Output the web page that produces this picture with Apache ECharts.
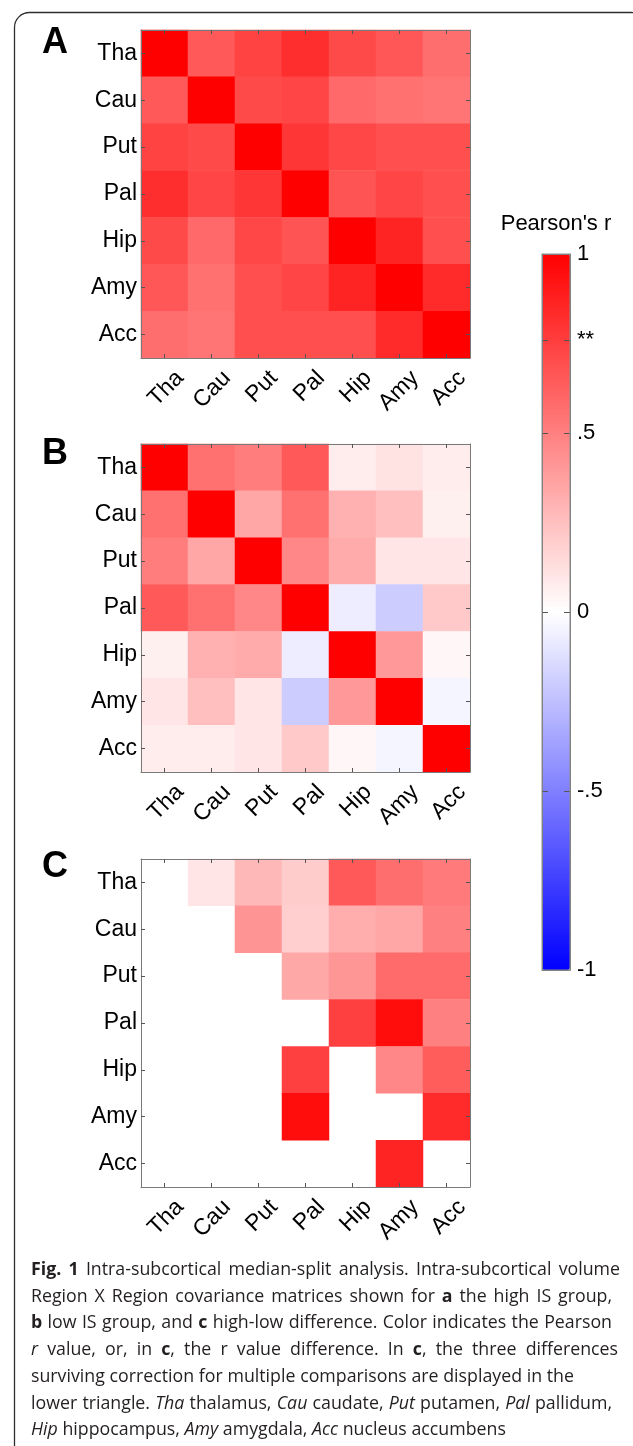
<!DOCTYPE html>
<html>
<head>
<meta charset="utf-8">
<script src="https://cdn.jsdelivr.net/npm/echarts@6/dist/echarts.min.js"></script>
<style>
html,body{margin:0;padding:0;background:#fff;}
#chart{width:633px;height:1446px;}
#measure{position:absolute;left:-9999px;top:0;white-space:pre;visibility:hidden;}
</style>
</head>
<body>
<div id="chart"></div>
<div id="measure"></div>
<script>
// ---------------- DATA ----------------
const regions = ['Tha', 'Cau', 'Put', 'Pal', 'Hip', 'Amy', 'Acc'];

// A: high IS group (Pearson r)
const highIS = [
  [1.00, 0.65, 0.74, 0.82, 0.71, 0.66, 0.57],
  [0.65, 1.00, 0.71, 0.73, 0.59, 0.56, 0.54],
  [0.74, 0.71, 1.00, 0.79, 0.72, 0.69, 0.69],
  [0.82, 0.73, 0.79, 1.00, 0.67, 0.73, 0.69],
  [0.71, 0.59, 0.72, 0.67, 1.00, 0.86, 0.69],
  [0.66, 0.56, 0.69, 0.73, 0.86, 1.00, 0.83],
  [0.57, 0.54, 0.69, 0.69, 0.69, 0.83, 1.00]
];

// B: low IS group (Pearson r)
const lowIS = [
  [1.00, 0.56, 0.51, 0.65, 0.07, 0.11, 0.07],
  [0.56, 1.00, 0.35, 0.56, 0.31, 0.25, 0.06],
  [0.51, 0.35, 1.00, 0.47, 0.33, 0.10, 0.10],
  [0.65, 0.56, 0.47, 1.00, -0.07, -0.20, 0.21],
  [0.06, 0.31, 0.33, -0.07, 1.00, 0.40, 0.03],
  [0.10, 0.25, 0.10, -0.20, 0.40, 1.00, -0.04],
  [0.07, 0.07, 0.10, 0.21, 0.03, -0.04, 1.00]
];

// C: high-low difference (upper triangle) + surviving differences (lower)
const diffHL = [
  [null, 0.10, 0.28, 0.20, 0.65, 0.57, 0.52],
  [null, null, 0.42, 0.19, 0.32, 0.35, 0.50],
  [null, null, null, 0.34, 0.41, 0.58, 0.58],
  [null, null, null, null, 0.75, 0.95, 0.50],
  [null, null, null, 0.75, null, 0.47, 0.64],
  [null, null, null, 0.95, null, null, 0.83],
  [null, null, null, null, null, 0.86, null]
];

const cbTickValues = [-1, -0.5, 0, 0.5, 0.76, 1];
const cbTickLabels = ['-1', '-.5', '0', '.5', '**', '1'];
const panelLetters = ['A', 'B', 'C'];

const captionLines = [
  '{b|Fig.} {b|1} Intra-subcortical median-split analysis. Intra-subcortical volume',
  'Region X Region covariance matrices shown for {b|a} the high IS group,',
  '{b|b} low IS group, and {b|c} high-low difference. Color indicates the Pearson',
  '{i|r} value, or, in {b|c}, the r value difference. In {b|c}, the three differences',
  'surviving correction for multiple comparisons are displayed in the',
  'lower triangle. {i|Tha} thalamus, {i|Cau} caudate, {i|Put} putamen, {i|Pal} pallidum,',
  '{i|Hip} hippocampus, {i|Amy} amygdala, {i|Acc} nucleus accumbens'
];

// ---------------- LAYOUT ----------------
const gridLeft = 141, gridW = 329, gridH = 328;
const gridTops = [30, 444, 859];
const letterY = [43, 454, 867];
const cb = {left: 542, top: 254, width: 28, height: 716};
const capX = 31, capY0 = 1270, capDY = 26.7;
const capRight = [620, 612, 612, 618, 574, 612, null];
const FONT = '"Liberation Sans", Arial, sans-serif';
const CAPFONTNAME = 'Open Sans';
const CAPFONT = '"Open Sans", sans-serif';

function toCells(m) {
  const out = [];
  m.forEach((row, i) => row.forEach((v, j) => { if (v !== null) out.push([j, i, v]); }));
  return out;
}

const grids = [], xAxes = [], yAxes = [], series = [];
const axisLineStyle = {color: '#7a7a7a', width: 1};
const tickStyle = {color: '#555', width: 1};

[highIS, lowIS, diffHL].forEach((mat, k) => {
  grids.push({left: gridLeft, top: gridTops[k], width: gridW, height: gridH});
  xAxes.push({
    type: 'category', gridIndex: k, data: regions, position: 'bottom', z: 5,
    axisLine: {show: true, lineStyle: axisLineStyle},
    axisTick: {show: true, inside: true, alignWithLabel: true, length: 4, lineStyle: tickStyle, interval: 0},
    axisLabel: {rotate: 45, interval: 0, hideOverlap: false, showMinLabel: true, showMaxLabel: true,
                fontSize: 23, fontFamily: FONT, color: '#000', margin: 1,
                verticalAlign: 'top', lineHeight: 44},
    splitLine: {show: false}
  });
  xAxes.push({
    type: 'category', gridIndex: k, data: regions, position: 'top', z: 5,
    axisLine: {show: true, lineStyle: axisLineStyle},
    axisTick: {show: true, inside: true, alignWithLabel: true, length: 4, lineStyle: tickStyle, interval: 0},
    axisLabel: {show: false}, splitLine: {show: false}
  });
  yAxes.push({
    type: 'category', gridIndex: k, data: regions, inverse: true, position: 'left', z: 5,
    axisLine: {show: true, lineStyle: axisLineStyle},
    axisTick: {show: true, inside: true, alignWithLabel: true, length: 4, lineStyle: tickStyle, interval: 0},
    axisLabel: {interval: 0, fontSize: 23, fontFamily: FONT, color: '#000', margin: 4},
    splitLine: {show: false}
  });
  yAxes.push({
    type: 'category', gridIndex: k, data: regions, inverse: true, position: 'right', z: 5,
    axisLine: {show: true, lineStyle: axisLineStyle},
    axisTick: {show: true, inside: true, alignWithLabel: true, length: 4, lineStyle: tickStyle, interval: 0},
    axisLabel: {show: false}, splitLine: {show: false}
  });
  series.push({
    type: 'heatmap', xAxisIndex: 2 * k, yAxisIndex: 2 * k,
    data: toCells(mat), itemStyle: {borderWidth: 0},
    emphasis: {disabled: true}, silent: true, progressive: 0
  });
});

// colorbar axes
grids.push({left: cb.left, top: cb.top, width: cb.width, height: cb.height});
xAxes.push({type: 'value', gridIndex: 3, min: 0, max: 1, position: 'bottom', z: 10,
  axisLine: {show: true, onZero: false, lineStyle: axisLineStyle}, axisTick: {show: false},
  axisLabel: {show: false}, splitLine: {show: false}});
xAxes.push({type: 'value', gridIndex: 3, min: 0, max: 1, position: 'top', z: 10,
  axisLine: {show: true, onZero: false, lineStyle: axisLineStyle}, axisTick: {show: false},
  axisLabel: {show: false}, splitLine: {show: false}});
const cbFmt = v => { const i = cbTickValues.findIndex(t => Math.abs(t - v) < 1e-6); return i >= 0 ? cbTickLabels[i] : ''; };
yAxes.push({type: 'value', gridIndex: 3, min: -1, max: 1, position: 'right', z: 10,
  axisLine: {show: true, onZero: false, lineStyle: axisLineStyle},
  axisTick: {show: true, inside: true, length: 6, customValues: [-0.5, 0, 0.5, 0.76], lineStyle: tickStyle},
  axisLabel: {show: true, customValues: cbTickValues, formatter: cbFmt, fontSize: 22, fontFamily: FONT, color: '#000', margin: 7},
  splitLine: {show: false}});
yAxes.push({type: 'value', gridIndex: 3, min: -1, max: 1, position: 'left', z: 10,
  axisLine: {show: true, onZero: false, lineStyle: axisLineStyle},
  axisTick: {show: true, inside: true, length: 6, customValues: [-0.5, 0, 0.5, 0.76], lineStyle: tickStyle},
  axisLabel: {show: false}, splitLine: {show: false}});

// ---------------- CAPTION LAYOUT (justified words, DOM-measured) ----------------
const measEl = document.getElementById('measure');
function measureSeg(txt, fs, wt, st) {
  measEl.style.fontFamily = CAPFONT;
  measEl.style.fontSize = fs + 'px';
  measEl.style.fontWeight = wt;
  measEl.style.fontStyle = st;
  measEl.textContent = txt;
  return measEl.getBoundingClientRect().width;
}
function measureWord(word, fs) {
  const re = /\{(b|i)\|([^}]*)\}|([^{]+)/g;
  let m, w = 0;
  while ((m = re.exec(word)) !== null) {
    let txt, wt = 'normal', st = 'normal';
    if (m[1]) { txt = m[2]; if (m[1] === 'b') wt = 'bold'; else st = 'italic'; }
    else txt = m[3];
    w += measureSeg(txt, fs, wt, st);
  }
  return w;
}
function naturalWidth(line, fs) {
  const words = line.split(' ');
  return words.reduce((s, w) => s + measureWord(w, fs), 0) + measureSeg(' ', fs, 'normal', 'normal') * (words.length - 1);
}
// font size chosen so the unjustified line 5 has the reference width
let capFS = 17;
capFS = capFS * (capRight[4] - capX) / naturalWidth(captionLines[4], capFS);
const richCap = {
  b: {fontWeight: 'bold', fontSize: capFS, fontFamily: CAPFONT, fill: '#231f20'},
  i: {fontStyle: 'italic', fontSize: capFS, fontFamily: CAPFONT, fill: '#231f20'}
};
const graphics = [];
graphics.push({type: 'rect', shape: {x: 14.5, y: 12.5, width: 632, height: 1490, r: 15},
  style: {fill: 'none', stroke: '#2e2e2e', lineWidth: 1.3}, z: 1, silent: true});
panelLetters.forEach((L, k) => {
  graphics.push({type: 'text', x: 42, y: letterY[k],
    style: {text: L, fontSize: 36, fontWeight: 'bold', fontFamily: FONT, fill: '#000', verticalAlign: 'middle', align: 'left'}});
});
graphics.push({type: 'text', x: cb.left + cb.width / 2, y: 224,
  style: {text: "Pearson's r", fontSize: 22, fontFamily: FONT, fill: '#000', align: 'center', verticalAlign: 'middle'}});
graphics.push({type: 'rect', shape: {x: cb.left, y: cb.top, width: cb.width, height: cb.height},
  style: {fill: 'none', stroke: '#8a8a8a', lineWidth: 1}, z: 50, silent: true});

const spaceW = measureSeg(' ', capFS, 'normal', 'normal');
captionLines.forEach((line, li) => {
  const words = line.split(' ');
  const ws = words.map(w => measureWord(w, capFS));
  const sum = ws.reduce((a, b) => a + b, 0);
  let gap = spaceW;
  if (capRight[li] !== null && words.length > 1) {
    gap = (capRight[li] - capX - sum) / (words.length - 1);
    gap = Math.max(gap, spaceW * 0.6);
  }
  let x = capX;
  const y = capY0 + li * capDY;
  words.forEach((w, wi) => {
    graphics.push({type: 'text', x: x, y: y, silent: true,
      style: {text: w, fontSize: capFS, fontFamily: CAPFONT, fill: '#231f20', align: 'left', verticalAlign: 'middle', rich: richCap}});
    x += ws[wi] + gap;
  });
});

// ---------------- CHART ----------------
const chart = echarts.init(document.getElementById('chart'), null, {renderer: 'canvas'});
chart.setOption({
  backgroundColor: '#ffffff',
  animation: false,
  grid: grids,
  xAxis: xAxes,
  yAxis: yAxes,
  visualMap: {
    type: 'continuous', min: -1, max: 1, calculable: false, seriesIndex: [0, 1, 2],
    orient: 'vertical', left: cb.left, top: cb.top, itemWidth: cb.width, itemHeight: cb.height,
    padding: 0, hoverLink: false, text: null,
    inRange: {color: ['#0000ff', '#ffffff', '#ff0000']}
  },
  series: series,
  graphic: graphics
});
</script>
</body>
</html>
